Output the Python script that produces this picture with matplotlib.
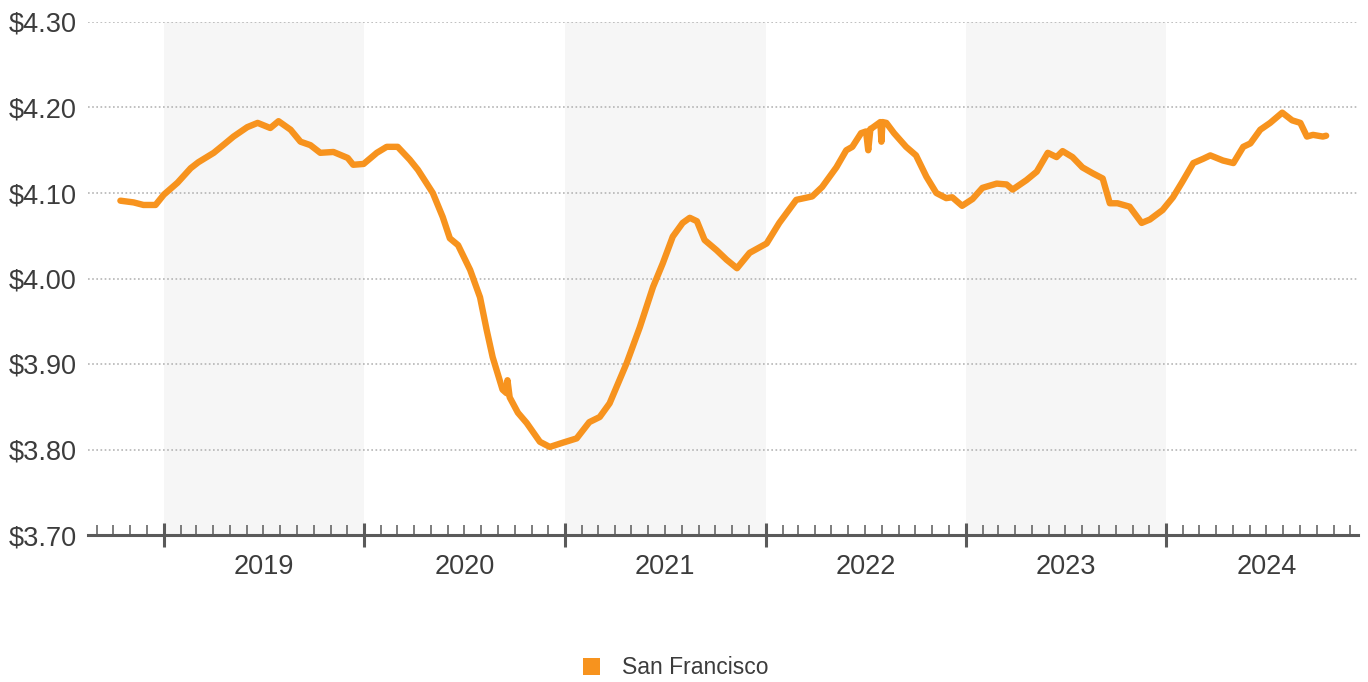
import numpy as np
import pandas as pd
import matplotlib
matplotlib.use("Agg")
import matplotlib.pyplot as plt
import matplotlib.dates as mdates
from matplotlib.patches import Patch
from matplotlib.transforms import blended_transform_factory

plt.rcParams['font.family'] = ['Liberation Sans', 'DejaVu Sans']

# price series
dates = [
    "2018-10-14", "2018-11-07", "2018-11-25", "2018-12-17",
    "2019-01-01", "2019-01-26", "2019-02-19", "2019-03-05", "2019-04-02", "2019-04-23",
    "2019-05-08", "2019-06-02", "2019-06-21", "2019-07-14", "2019-07-29", "2019-08-20",
    "2019-09-07", "2019-09-25", "2019-10-13", "2019-11-06", "2019-12-02", "2019-12-12",
    "2019-12-31", "2020-01-24", "2020-02-11", "2020-03-02", "2020-03-24", "2020-04-08",
    "2020-05-05", "2020-05-23", "2020-06-05", "2020-06-20", "2020-07-12", "2020-07-30",
    "2020-08-11", "2020-08-22", "2020-09-09", "2020-09-16", "2020-09-18", "2020-09-22",
    "2020-10-07", "2020-10-23", "2020-11-16", "2020-12-04", "2020-12-28",
    "2021-01-22", "2021-02-14", "2021-03-05", "2021-03-23", "2021-04-23", "2021-05-17",
    "2021-06-10", "2021-06-28", "2021-07-16", "2021-08-03", "2021-08-16", "2021-08-29",
    "2021-09-12", "2021-10-04", "2021-10-22", "2021-11-10", "2021-12-03",
    "2022-01-03", "2022-01-26", "2022-02-26", "2022-03-27", "2022-04-14", "2022-05-10",
    "2022-05-28", "2022-06-08", "2022-06-24", "2022-07-03", "2022-07-07", "2022-07-11",
    "2022-07-14", "2022-07-27", "2022-07-29", "2022-07-31", "2022-08-02", "2022-08-09",
    "2022-08-23", "2022-09-14", "2022-10-02", "2022-10-21", "2022-11-08", "2022-11-26",
    "2022-12-07", "2022-12-25",
    "2023-01-13", "2023-01-31", "2023-02-26", "2023-03-16", "2023-03-27", "2023-04-21",
    "2023-05-10", "2023-05-30", "2023-06-15", "2023-06-26", "2023-07-14", "2023-08-01",
    "2023-08-20", "2023-09-07", "2023-09-20", "2023-10-04", "2023-10-26", "2023-11-17",
    "2023-12-02", "2023-12-25",
    "2024-01-13", "2024-01-30", "2024-02-19", "2024-03-08", "2024-03-21", "2024-04-13",
    "2024-05-02", "2024-05-20", "2024-06-02", "2024-06-20", "2024-07-08", "2024-07-30",
    "2024-08-17", "2024-09-01", "2024-09-13", "2024-09-24", "2024-10-12", "2024-10-18",
]
prices = [
    4.091, 4.089, 4.086, 4.086,
    4.098, 4.112, 4.129, 4.136, 4.147, 4.158,
    4.166, 4.177, 4.182, 4.176, 4.184, 4.174,
    4.160, 4.156, 4.147, 4.148, 4.141, 4.133,
    4.134, 4.147, 4.154, 4.154, 4.139, 4.127,
    4.100, 4.072, 4.047, 4.039, 4.010, 3.978,
    3.940, 3.908, 3.870, 3.866, 3.881, 3.861,
    3.843, 3.831, 3.809, 3.803, 3.808,
    3.813, 3.832, 3.838, 3.854, 3.901, 3.943,
    3.990, 4.018, 4.049, 4.065, 4.071, 4.067,
    4.045, 4.033, 4.022, 4.012, 4.030,
    4.041, 4.065, 4.092, 4.096, 4.107, 4.130,
    4.150, 4.154, 4.170, 4.172, 4.150, 4.175,
    4.176, 4.182, 4.183, 4.160, 4.183, 4.182,
    4.170, 4.154, 4.144, 4.119, 4.100, 4.094,
    4.095, 4.085,
    4.093, 4.106, 4.111, 4.110, 4.104, 4.115,
    4.125, 4.147, 4.142, 4.149, 4.142, 4.130,
    4.123, 4.117, 4.088, 4.088, 4.084, 4.065,
    4.069, 4.080,
    4.095, 4.113, 4.135, 4.140, 4.144, 4.138,
    4.135, 4.154, 4.158, 4.174, 4.182, 4.194,
    4.185, 4.182, 4.166, 4.168, 4.166, 4.167,
]
years = [2019, 2020, 2021, 2022, 2023, 2024]
shaded_years = [2019, 2021, 2023]
y_ticks = [3.70, 3.80, 3.90, 4.00, 4.10, 4.20, 4.30]

orange = "#f7931e"
text_col = "#3c3c3c"

df = pd.DataFrame({"date": pd.to_datetime(dates), "price": prices})

fig = plt.figure(figsize=(13.68, 6.82), dpi=100)
ax = fig.add_axes([88 / 1368, 1 - 535 / 682, (1358 - 88) / 1368, (535 - 22) / 682])

for yr in shaded_years:
    ax.axvspan(pd.Timestamp(f"{yr}-01-01"), pd.Timestamp(f"{yr + 1}-01-01"),
               color="#f6f6f6", zorder=0, lw=0)

for v in y_ticks[1:]:
    ax.axhline(v, color="#b5b5b5", lw=1.2, ls=(0, (1, 1.5)), zorder=1)

ax.plot(df["date"], df["price"], color=orange, lw=4.6, zorder=3,
        solid_joinstyle="round", solid_capstyle="round")

ax.set_xlim(pd.Timestamp("2018-08-16"), pd.Timestamp("2024-12-15"))
ax.set_ylim(3.70, 4.30)

# y axis
ax.set_yticks(y_ticks)
ax.set_yticklabels([f"${v:.2f}" for v in y_ticks])
ax.tick_params(axis="y", length=0, pad=8, labelsize=19.5, labelcolor=text_col)

# x axis: year ticks crossing the line, month ticks inward
ax.xaxis.set_major_locator(mdates.YearLocator())
ax.xaxis.set_minor_locator(mdates.MonthLocator())
ax.xaxis.set_major_formatter(plt.NullFormatter())
ax.tick_params(axis="x", which="major", direction="inout", length=17, width=2.2, color="#5a5a5a")
ax.tick_params(axis="x", which="minor", direction="in", length=7.5, width=1.1, color="#5a5a5a")

trans = blended_transform_factory(ax.transData, ax.transAxes)
for yr in years:
    ax.text(pd.Timestamp(f"{yr}-07-02"), -0.062, str(yr), transform=trans,
            ha="center", va="center", fontsize=19.5, color=text_col)

for s in ["top", "right", "left"]:
    ax.spines[s].set_visible(False)
ax.spines["bottom"].set_color("#5a5a5a")
ax.spines["bottom"].set_linewidth(2.2)

fig.legend(handles=[Patch(facecolor=orange, edgecolor="none", label="San Francisco")],
           loc="center", bbox_to_anchor=(676 / 1368, 1 - 668 / 682), frameon=False,
           fontsize=16.5, handlelength=0.75, handleheight=0.75, handletextpad=0.95,
           labelcolor=text_col)

fig.savefig("out.png", dpi=100, facecolor="white")
